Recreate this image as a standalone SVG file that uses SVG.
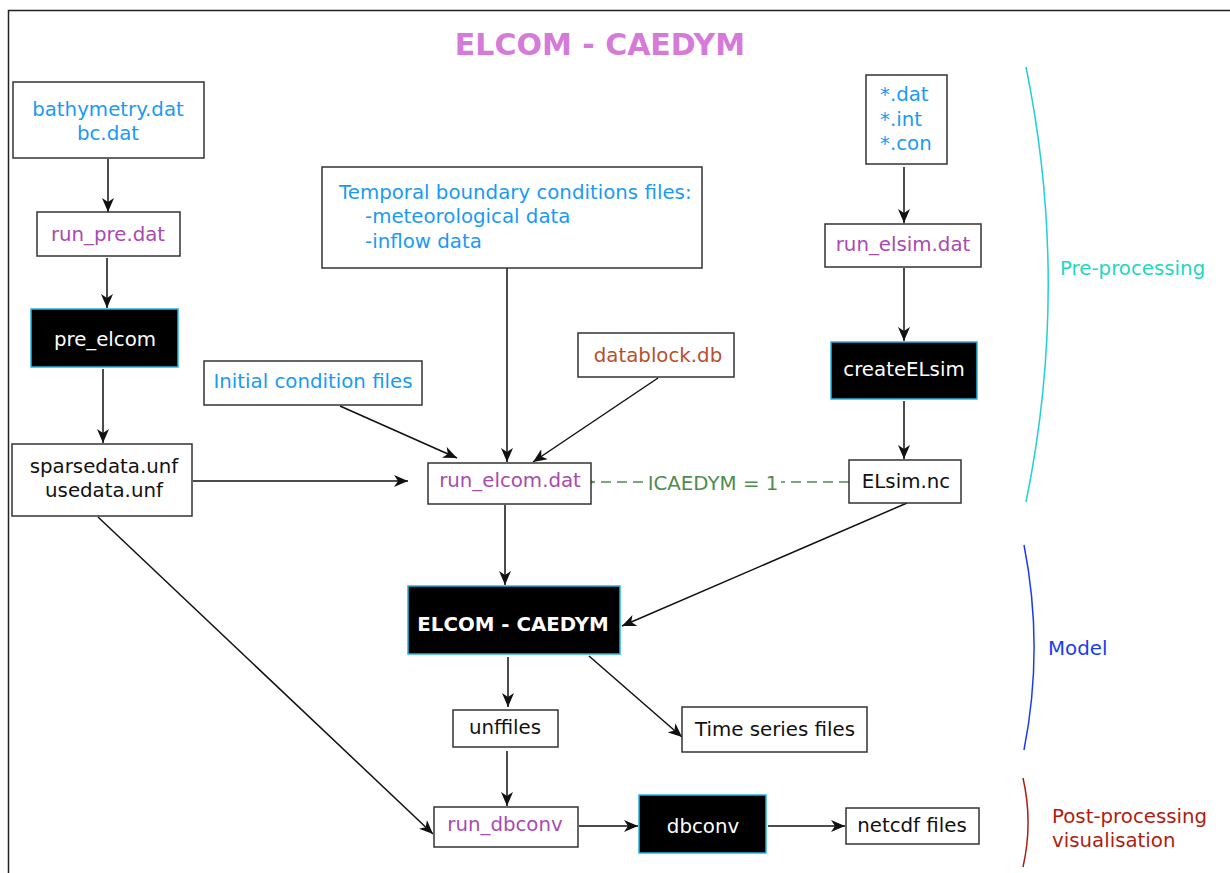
<svg xmlns="http://www.w3.org/2000/svg" width="1230" height="873" viewBox="0 0 1230 873">
<style>
text{font-family:"DejaVu Sans","Liberation Sans",sans-serif;font-size:19.8px;text-anchor:middle}
.box{fill:#fff;stroke:#333;stroke-width:1.5}
.blk{fill:#000;stroke:#22b5e5;stroke-width:1.5}
.blue{fill:#1a9af5}
.pur{fill:#a94ab0}
.brn{fill:#b5502f}
.dark{fill:#111}
.wht{fill:#fff}
.conn{stroke:#111;stroke-width:1.5;fill:none}
.dash{stroke:#4e8c4e;stroke-width:1.3;fill:none;stroke-dasharray:10 6}
</style>
<defs>
<marker id="arr" viewBox="0 0 14 12" refX="14" refY="6" markerWidth="14" markerHeight="12" markerUnits="userSpaceOnUse" orient="auto">
<path d="M0,0 L14,6 L0,12 L4,6 z" fill="#111"/>
</marker>
<marker id="garr" viewBox="0 0 12 12" refX="1" refY="6" markerWidth="12" markerHeight="12" markerUnits="userSpaceOnUse" orient="auto">
<path d="M10,1 L1,6 L10,11" fill="none" stroke="#4e8c4e" stroke-width="1.5"/>
</marker>
</defs>
<rect x="0" y="0" width="1230" height="873" fill="#fff"/>
<path d="M8.5 873 L8.5 10.5 L1230 10.5" fill="none" stroke="#222" stroke-width="1.5"/>
<text x="600" y="55" style="font-size:30px;font-weight:bold;fill:#d67ad9">ELCOM - CAEDYM</text>

<g id="connectors">
<path class="conn" d="M108 159 L108 212" marker-end="url(#arr)"/>
<path class="conn" d="M107 258 L107 308" marker-end="url(#arr)"/>
<path class="conn" d="M103 369 L103 443" marker-end="url(#arr)"/>
<path class="conn" d="M193 481 L408 481" marker-end="url(#arr)"/>
<path class="conn" d="M340 406 L457 458" marker-end="url(#arr)"/>
<path class="conn" d="M507 268 L507 462" marker-end="url(#arr)"/>
<path class="conn" d="M658 378 L533 462" marker-end="url(#arr)"/>
<path class="dash" d="M849 482 L781 482"/>
<path class="dash" d="M643 482 L593 482" marker-end="url(#garr)"/>
<path class="conn" d="M907 503 L622 626" marker-end="url(#arr)"/>
<path class="conn" d="M505 505 L505 585" marker-end="url(#arr)"/>
<path class="conn" d="M508 657 L508 707" marker-end="url(#arr)"/>
<path class="conn" d="M589 656 L682 737" marker-end="url(#arr)"/>
<path class="conn" d="M507 751 L507 806" marker-end="url(#arr)"/>
<path class="conn" d="M98 517 L433 834" marker-end="url(#arr)"/>
<path class="conn" d="M579 826 L638 826" marker-end="url(#arr)"/>
<path class="conn" d="M768 826 L845 826" marker-end="url(#arr)"/>
<path class="conn" d="M904 167 L904 223" marker-end="url(#arr)"/>
<path class="conn" d="M904 268 L904 341" marker-end="url(#arr)"/>
<path class="conn" d="M904 401 L904 459" marker-end="url(#arr)"/>
<text x="713" y="490" style="fill:#4e8c4e">ICAEDYM = 1</text>
</g>

<g id="bathymetry">
<rect class="box" x="13" y="82" width="191" height="76"/>
<text class="blue" x="108" y="116">bathymetry.dat</text>
<text class="blue" x="108" y="140">bc.dat</text>
</g>
<g id="run_pre">
<rect class="box" x="37" y="212" width="143" height="44"/>
<text class="pur" x="108" y="241">run_pre.dat</text>
</g>
<g id="pre_elcom">
<rect class="blk" x="31" y="309" width="147" height="58"/>
<text class="wht" x="105" y="346">pre_elcom</text>
</g>
<g id="sparsedata">
<rect class="box" x="12" y="444" width="180" height="72"/>
<text class="dark" x="104" y="473">sparsedata.unf</text>
<text class="dark" x="104" y="497">usedata.unf</text>
</g>
<g id="initial">
<rect class="box" x="204" y="361" width="218" height="44"/>
<text class="blue" x="313" y="388">Initial condition files</text>
</g>
<g id="temporal">
<rect class="box" x="322" y="167" width="380" height="101"/>
<text class="blue" x="339" y="199" style="text-anchor:start">Temporal boundary conditions files:</text>
<text class="blue" x="365" y="223" style="text-anchor:start">-meteorological data</text>
<text class="blue" x="365" y="248" style="text-anchor:start">-inflow data</text>
</g>
<g id="datablock">
<rect class="box" x="578" y="333" width="156" height="44"/>
<text class="brn" x="658" y="362">datablock.db</text>
</g>
<g id="run_elcom">
<rect class="box" x="428" y="463" width="163" height="41"/>
<text class="pur" x="510" y="487">run_elcom.dat</text>
</g>
<g id="elsim_nc">
<rect class="box" x="849" y="460" width="112" height="43"/>
<text class="dark" x="906" y="488">ELsim.nc</text>
</g>
<g id="star_files">
<rect class="box" x="866" y="75" width="81" height="89"/>
<text class="blue" x="880" y="101" style="text-anchor:start">*.dat</text>
<text class="blue" x="880" y="126" style="text-anchor:start">*.int</text>
<text class="blue" x="880" y="150" style="text-anchor:start">*.con</text>
</g>
<g id="run_elsim">
<rect class="box" x="825" y="224" width="156" height="43"/>
<text class="pur" x="903" y="251">run_elsim.dat</text>
</g>
<g id="createELsim">
<rect class="blk" x="831" y="342" width="146" height="57"/>
<text class="wht" x="904" y="376">createELsim</text>
</g>
<g id="elcom_caedym">
<rect class="blk" x="408" y="586" width="212" height="68"/>
<text class="wht" x="513" y="631" style="font-weight:bold">ELCOM - CAEDYM</text>
</g>
<g id="unffiles">
<rect class="box" x="453" y="710" width="105" height="37"/>
<text class="dark" x="505" y="734">unffiles</text>
</g>
<g id="timeseries">
<rect class="box" x="682" y="707" width="185" height="45"/>
<text class="dark" x="775" y="736">Time series files</text>
</g>
<g id="run_dbconv">
<rect class="box" x="434" y="807" width="144" height="40"/>
<text class="pur" x="505" y="831">run_dbconv</text>
</g>
<g id="dbconv">
<rect class="blk" x="639" y="795" width="127" height="58"/>
<text class="wht" x="703" y="833">dbconv</text>
</g>
<g id="netcdf">
<rect class="box" x="846" y="808" width="133" height="36"/>
<text class="dark" x="912" y="832">netcdf files</text>
</g>

<g id="pre_processing">
<path d="M1026 67 A1086 1086 0 0 1 1026 502" fill="none" stroke="#20d0d8" stroke-width="1.5"/>
<text x="1060" y="275" style="text-anchor:start;fill:#20d8c0">Pre-processing</text>
</g>
<g id="model">
<path d="M1024 545 A530 530 0 0 1 1024 750" fill="none" stroke="#1a3cf0" stroke-width="1.5"/>
<text x="1048" y="655" style="text-anchor:start;fill:#1a3cf0">Model</text>
</g>
<g id="post_processing">
<path d="M1023 778 A200 200 0 0 1 1023 867" fill="none" stroke="#b01c10" stroke-width="1.5"/>
<text x="1052" y="823" style="text-anchor:start;fill:#b01c10">Post-processing</text>
<text x="1052" y="847" style="text-anchor:start;fill:#b01c10">visualisation</text>
</g>
</svg>
